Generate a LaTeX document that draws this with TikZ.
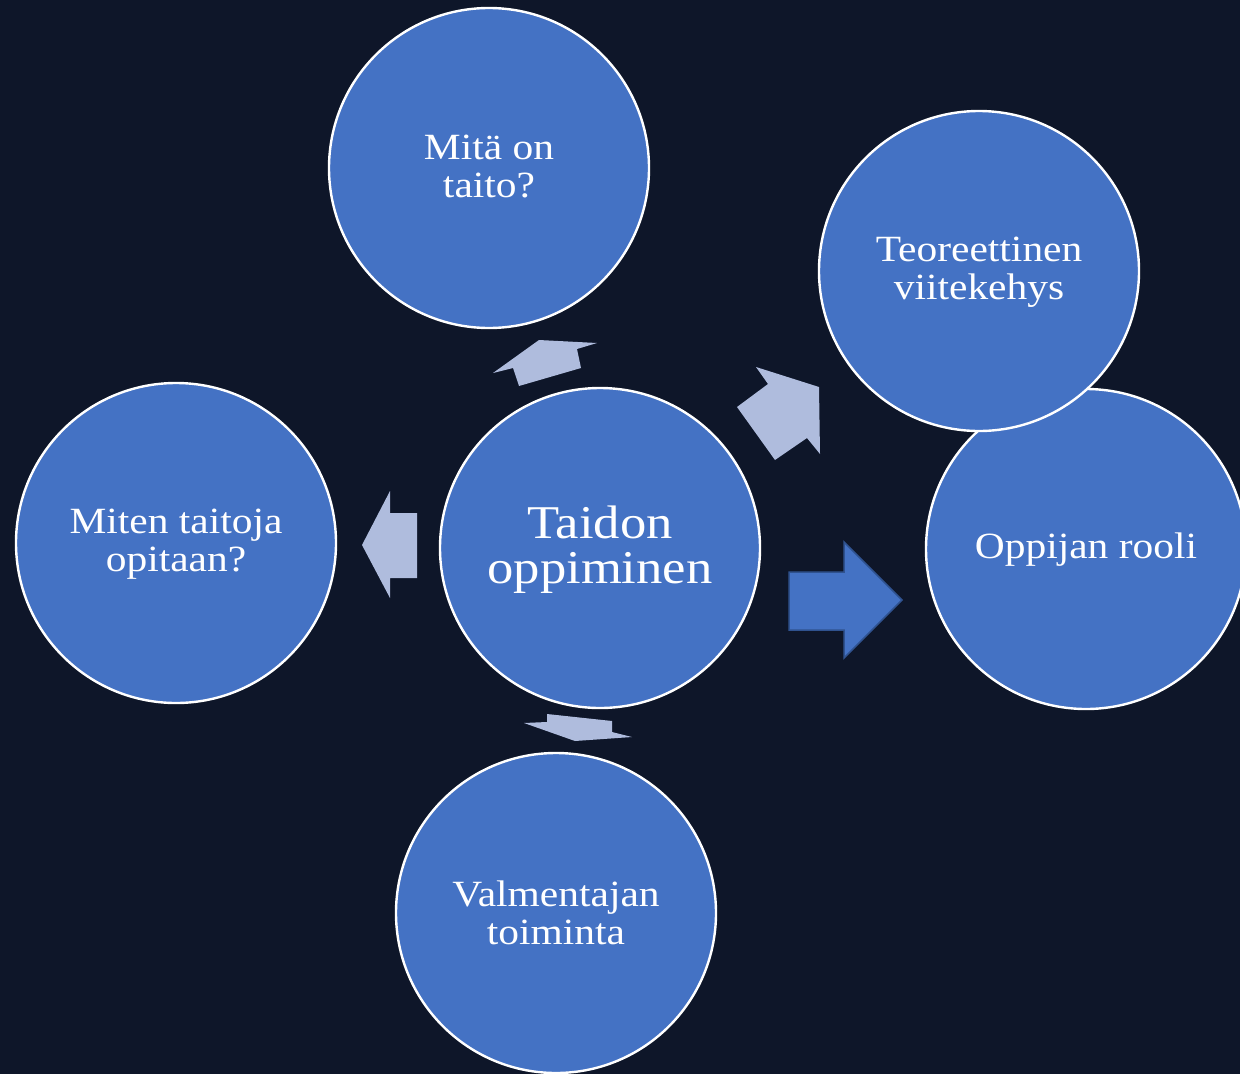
\documentclass[tikz,border=0pt]{standalone}
\usepackage{fontspec}
\setmainfont{Liberation Serif}[FakeStretch=1.12]
\definecolor{bgc}{HTML}{0E1629}
\definecolor{circc}{HTML}{4472C4}
\definecolor{arrc}{HTML}{AFBCDD}
\definecolor{arrd}{HTML}{2F528F}
\begin{document}
\begin{tikzpicture}[x=1pt,y=-1pt,
  bubble/.style={circle,draw=white,line width=2.4pt,fill=circc,minimum size=320pt,inner sep=0pt},
  txt/.style={text=white,align=center,font=\fontsize{37}{38}\selectfont},
  bigtxt/.style={text=white,align=center,font=\fontsize{47}{45}\selectfont},
  lightarrow/.style={fill=arrc},
  bluearrow/.style={fill=circc,draw=arrd,line width=1.5pt,line join=miter}]
\fill[bgc] (0,0) rectangle (1240,1074);
\useasboundingbox (0,0) rectangle (1240,1074);
% arrows
\fill[lightarrow] (493,373) -- (539,340) -- (597,343) -- (577,349) -- (581,368) -- (519,386) -- (513,368) -- cycle;
\fill[lightarrow] (756,367) -- (819,387) -- (820,454) -- (807,438) -- (775,460) -- (737,407) -- (768,384) -- cycle;
\fill[lightarrow] (390,491) -- (390,513) -- (417,513) -- (417,578) -- (390,578) -- (390,598) -- (362,545) -- cycle;
\fill[lightarrow] (524,723) -- (547,722) -- (547,714) -- (612,721) -- (612,732) -- (632,737) -- (575,741) -- cycle;
\draw[bluearrow] (789,572) -- (844,572) -- (844,542) -- (902,600) -- (844,658) -- (844,630) -- (789,630) -- cycle;
% circles
\node[bubble] (mita) at (489,168) {};
\node[bubble] (oppijan) at (1086,549) {};
\node[bubble] (teor) at (979,271) {};
\node[bubble] (taidon) at (600,548) {};
\node[bubble] (miten) at (176,543) {};
\node[bubble] (valm) at (556,913) {};
% texts
\node[txt] at (mita.center) [yshift=1pt] {Mitä on\\taito?};
\node[txt] at (teor.center) [yshift=-1pt] {Teoreettinen\\viitekehys};
\node[txt] at (oppijan.center) [yshift=-1pt] {Oppijan rooli};
\node[bigtxt] at (taidon.center) [yshift=-2pt] {Taidon\\oppiminen};
\node[txt] at (miten.center) [yshift=-1pt] {Miten taitoja\\opitaan?};
\node[txt] at (valm.center) [yshift=0pt] {Valmentajan\\toiminta};
\end{tikzpicture}
\end{document}
